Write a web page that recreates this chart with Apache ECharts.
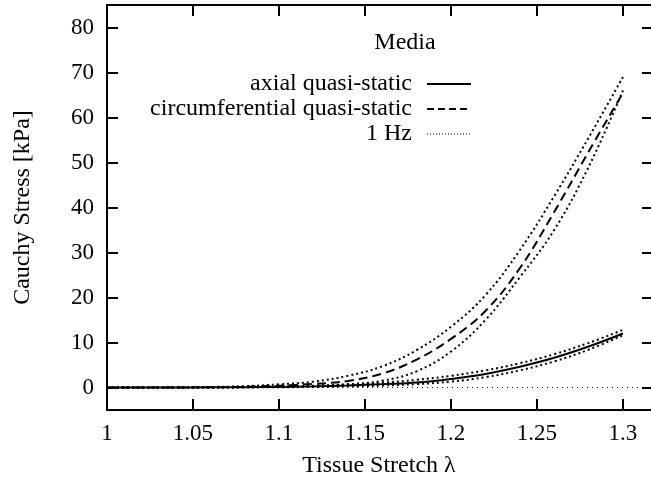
<!DOCTYPE html>
<html>
<head>
<meta charset="utf-8">
<script src="https://cdn.jsdelivr.net/npm/echarts@6/dist/echarts.min.js"></script>
<style>
  html, body { margin: 0; padding: 0; background: #fff; overflow: hidden; }
  #chart { width: 651px; height: 483px; display: block; }
</style>
</head>
<body>
<div id="chart"></div>
<script>
// stretch values (x) shared by every curve
const stretch = [1.00, 1.02, 1.04, 1.06, 1.08, 1.10, 1.12, 1.14, 1.16, 1.18, 1.20, 1.22, 1.24, 1.26, 1.28, 1.30];

// media, quasi-static
const axialQS = [0, 0, 0.01, 0.03, 0.07, 0.13, 0.25, 0.45, 0.75, 1.1, 1.9, 3.0, 4.6, 6.6, 9.1, 12.0];
const circQS = [0, 0, 0.02, 0.05, 0.15, 0.4, 0.8, 1.45, 3.1, 6.2, 10.8, 17.0, 26.5, 39.0, 52.4, 65.5];

// media, 1 Hz (upper / lower curves around each quasi-static one)
const axial1HzUp = [0, 0, 0.02, 0.05, 0.1, 0.2, 0.4, 0.7, 1.1, 1.7, 2.6, 3.8, 5.4, 7.4, 9.9, 12.8];
const axial1HzLo = [0, 0, 0, 0.01, 0.03, 0.05, 0.12, 0.25, 0.45, 0.75, 1.3, 2.3, 3.8, 5.8, 8.4, 11.6];
const circ1HzUp = [0, 0.02, 0.05, 0.12, 0.3, 0.7, 1.3, 2.6, 4.7, 8.3, 13.5, 20.5, 30.5, 42.5, 55.5, 69.0];
const circ1HzLo = [0, 0, 0, 0.02, 0.05, 0.15, 0.35, 0.7, 1.5, 3.6, 8.0, 15.0, 24.5, 35.0, 49.0, 66.0];

// ticks
const xTicks = [1, 1.05, 1.1, 1.15, 1.2, 1.25, 1.3];
const yTicks = [0, 10, 20, 30, 40, 50, 60, 70, 80];

const font = 'Liberation Serif, Times New Roman, serif';
const xMax = 1.3163; // plot runs off the right edge of the picture

function pts(ys) {
  return stretch.map((x, i) => [x, ys[i]]);
}

function curve(name, ys, style) {
  return {
    name: name,
    type: 'line',
    data: pts(ys),
    smooth: 0.4,
    symbol: 'none',
    silent: true,
    lineStyle: Object.assign({ color: '#000' }, style),
    itemStyle: { color: '#000' }
  };
}

const solid = { width: 2, type: 'solid' };
const dashed = { width: 2, type: [9, 5] };
const dotted = { width: 2, type: [2, 3] };

function ticks(values, len) {
  return { show: true, customValues: values, inside: true, length: len, lineStyle: { color: '#000', width: 2 } };
}
function frame() {
  return { show: true, onZero: false, lineStyle: { color: '#000', width: 2 } };
}
const noPointer = { show: false };

let chart = echarts.init(document.getElementById('chart'));
chart.setOption({
  animation: false,
  backgroundColor: '#fff',
  textStyle: { fontFamily: font },
  tooltip: { show: false },
  axisPointer: { show: false },
  grid: { left: 107, right: 0, top: 5, bottom: 73 },
  graphic: [{
    type: 'text',
    x: 405, y: 43,
    silent: true,
    style: { text: 'Media', fontFamily: font, fontSize: 24, fill: '#000', textAlign: 'center', textVerticalAlign: 'middle' }
  }],
  legend: {
    orient: 'vertical',
    align: 'right',
    right: 179,
    top: 72,
    padding: 0,
    itemGap: 1,
    itemWidth: 44,
    itemHeight: 14,
    selectedMode: false,
    itemStyle: { opacity: 0 },
    textStyle: { fontFamily: font, fontSize: 24, color: '#000', padding: [0, 10, 0, 0] },
    data: [
      { name: 'axial quasi-static' },
      { name: 'circumferential quasi-static', lineStyle: { width: 2, type: [7, 4] } },
      { name: '1 Hz', lineStyle: { width: 1, type: [1, 2] } }
    ]
  },
  xAxis: [{
    type: 'value',
    min: 1, max: xMax,
    name: 'Tissue Stretch λ',
    nameLocation: 'middle',
    nameGap: 44,
    nameTextStyle: { fontFamily: font, fontSize: 24, color: '#000' },
    axisPointer: noPointer,
    axisLine: frame(),
    axisTick: ticks(xTicks, 11),
    axisLabel: { customValues: xTicks, margin: 12, fontFamily: font, fontSize: 23, color: '#000', formatter: v => String(+v.toFixed(2)) },
    splitLine: { show: false }
  }, {
    type: 'value',
    position: 'top',
    min: 1, max: xMax,
    axisPointer: noPointer,
    axisLine: frame(),
    axisTick: ticks(xTicks, 11),
    axisLabel: { show: false },
    splitLine: { show: false }
  }],
  yAxis: [{
    type: 'value',
    min: -5, max: 85,
    name: 'Cauchy Stress [kPa]',
    nameLocation: 'middle',
    nameGap: 72,
    nameTextStyle: { fontFamily: font, fontSize: 24, color: '#000' },
    axisPointer: noPointer,
    axisLine: frame(),
    axisTick: ticks(yTicks, 11),
    axisLabel: { customValues: yTicks, margin: 13, fontFamily: font, fontSize: 23, color: '#000' },
    splitLine: { show: false }
  }, {
    type: 'value',
    position: 'right',
    min: -5, max: 85,
    axisPointer: noPointer,
    axisLine: { show: false, onZero: false },
    axisTick: ticks(yTicks, 9),
    axisLabel: { show: false },
    splitLine: { show: false }
  }],
  series: [
    Object.assign(curve('zero', [0, 0], { width: 1, type: [1, 4] }), {
      data: [[1, 0], [xMax, 0]], smooth: false
    }),
    curve('axial quasi-static', axialQS, solid),
    curve('circumferential quasi-static', circQS, dashed),
    curve('1 Hz', axial1HzUp, dotted),
    curve('1 Hz', axial1HzLo, dotted),
    curve('1 Hz', circ1HzUp, dotted),
    curve('1 Hz', circ1HzLo, dotted)
  ]
});
</script>
</body>
</html>
